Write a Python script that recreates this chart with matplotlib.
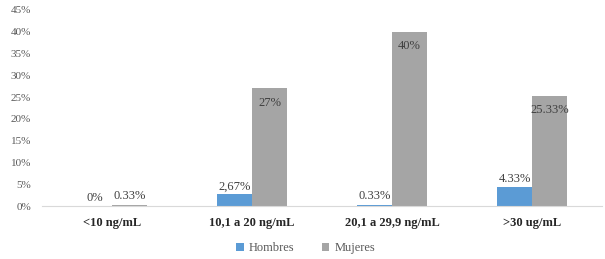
import matplotlib.pyplot as plt
import numpy as np

categorias = ['<10 ng/mL', '10,1 a 20 ng/mL', '20,1 a 29,9 ng/mL', '>30 ug/mL']
hombres = [0, 2.67, 0.33, 4.33]
mujeres = [0.33, 27, 40, 25.33]
etiq_hombres = ['0%', '2,67%', '0.33%', '4.33%']
etiq_mujeres = ['0.33%', '27%', '40%', '25.33%']

plt.rcParams['font.family'] = ['Liberation Serif', 'DejaVu Serif']

fig = plt.figure(figsize=(6.05, 2.59), dpi=100)
ax = fig.add_axes([42/605, 1 - 206/259, 560/605, 196/259])

x = np.arange(len(categorias))
w = 0.25
b1 = ax.bar(x - w/2, hombres, w, color='#5B9BD5', label='Hombres')
b2 = ax.bar(x + w/2, mujeres, w, color='#A5A5A5', label='Mujeres')

# etiquetas de datos
for r, t in zip(b1, etiq_hombres):
    ax.annotate(t, (r.get_x() + r.get_width()/2, r.get_height()), xytext=(0, 1.5),
                textcoords='offset points', ha='center', va='bottom', fontsize=9, color='#404040')
for r, t, v in zip(b2, etiq_mujeres, mujeres):
    if v > 5:
        ax.annotate(t, (r.get_x() + r.get_width()/2, v), xytext=(0, -6),
                    textcoords='offset points', ha='center', va='top', fontsize=9, color='#404040')
    else:
        ax.annotate(t, (r.get_x() + r.get_width()/2, v), xytext=(0, 1.5),
                    textcoords='offset points', ha='center', va='bottom', fontsize=9, color='#404040')

ax.set_xlim(-0.5, 3.5)
ax.set_ylim(0, 45)
ax.set_yticks(range(0, 46, 5))
ax.set_yticklabels([f'{v}%' for v in range(0, 46, 5)])
ax.set_xticks(x)
ax.set_xticklabels(categorias, fontweight='bold')
ax.tick_params(axis='y', length=0, labelsize=8, labelcolor='#595959', pad=8)
ax.tick_params(axis='x', length=0, labelsize=9, labelcolor='#262626', pad=8)
for s in ['top', 'right', 'left']:
    ax.spines[s].set_visible(False)
ax.spines['bottom'].set_color('#D9D9D9')

fig.legend(loc='lower center', bbox_to_anchor=(0.505, -0.025), ncol=2, frameon=False,
           fontsize=9, handlelength=0.6, handleheight=0.6, handletextpad=0.4,
           columnspacing=2.2, labelcolor='#595959')

fig.savefig('out.png', dpi=100)
